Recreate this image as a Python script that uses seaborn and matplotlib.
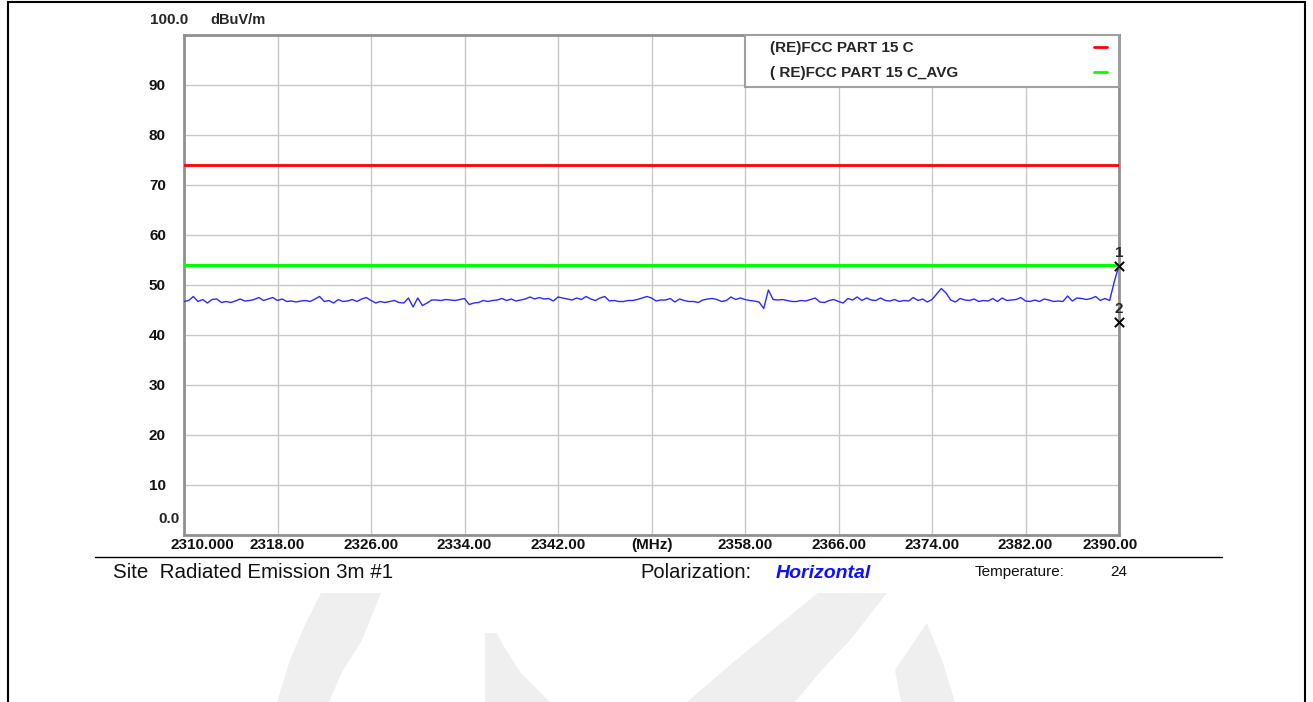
import numpy as np
import matplotlib
matplotlib.use("Agg")
import matplotlib.pyplot as plt
import matplotlib.transforms as mtransforms
from matplotlib.lines import Line2D
from matplotlib.patches import Polygon, Rectangle
import seaborn as sns

# --- data: 2310-2390 MHz, one reading every 0.4 MHz ---
level_dbuv = [
    46.7, 46.9, 47.7, 46.7, 47.1, 46.4, 47.1, 47.2, 46.5, 46.7,
    46.5, 46.8, 47.2, 46.8, 46.9, 47.1, 47.5, 46.9, 47.2, 47.5,
    46.9, 47.2, 46.7, 46.8, 46.6, 46.8, 46.9, 46.7, 47.2, 47.7,
    46.7, 46.9, 46.4, 47.1, 46.7, 46.8, 47.1, 46.7, 47.2, 47.5,
    46.9, 46.4, 46.7, 46.5, 46.7, 46.9, 46.5, 46.4, 47.4, 45.6,
    47.4, 45.9, 46.4, 47.0, 47.0, 46.9, 47.1, 47.0, 46.9, 47.1,
    47.3, 46.1, 46.4, 46.5, 46.9, 46.7, 46.9, 47.0, 47.3, 46.9,
    47.2, 46.8, 47.0, 47.2, 47.6, 47.2, 47.5, 47.2, 47.3, 46.8,
    47.6, 47.4, 47.2, 47.0, 47.4, 47.1, 47.7, 47.2, 46.9, 47.4,
    47.7, 46.8, 46.9, 46.7, 46.7, 46.9, 46.9, 47.1, 47.4, 47.7,
    47.4, 46.8, 47.0, 47.0, 47.3, 46.6, 47.2, 46.9, 46.7, 46.7,
    46.5, 47.0, 47.2, 47.3, 47.1, 46.7, 46.9, 47.6, 47.1, 47.4,
    47.1, 46.9, 46.8, 46.6, 45.3, 49.0, 47.1, 47.0, 47.1, 46.9,
    46.7, 46.7, 46.9, 46.8, 47.1, 47.4, 46.6, 46.5, 46.9, 47.1,
    46.7, 46.4, 47.3, 47.0, 47.6, 46.9, 47.4, 47.0, 46.9, 47.4,
    46.9, 46.8, 47.1, 46.7, 46.9, 46.8, 47.5, 46.9, 47.2, 46.6,
    47.1, 48.2, 49.3, 48.4, 47.0, 46.6, 47.3, 47.0, 46.9, 47.2,
    46.7, 46.9, 46.8, 47.3, 46.7, 47.4, 46.9, 47.0, 47.1, 47.5,
    46.8, 46.7, 47.0, 46.7, 47.2, 47.0, 46.7, 46.8, 46.7, 47.8,
    46.8, 47.4, 47.3, 47.1, 47.3, 47.7, 46.9, 47.3, 46.9, 50.7,
    53.9,
]
freq_mhz = np.linspace(2310, 2390, len(level_dbuv))

limit_peak = 74.0
limit_avg = 54.0
limit_labels = ["(RE)FCC PART 15 C", "( RE)FCC PART 15 C_AVG"]

marker_freq = [2390.0, 2390.0]
marker_level = [53.9, 42.7]
marker_ids = ["1", "2"]

x_ticks = [2310, 2318, 2326, 2334, 2342, 2350, 2358, 2366, 2374, 2382, 2390]
x_ticklabels = ["2310.000", "2318.00", "2326.00", "2334.00", "2342.00", "(MHz)",
                "2358.00", "2366.00", "2374.00", "2382.00", "2390.00"]
y_ticks = [10, 20, 30, 40, 50, 60, 70, 80, 90]

W, H = 1313, 702


def px(x, y):
    # figure pixel -> figure fraction (origin top-left like the scan)
    return (x / W, 1 - y / H)


sns.set_theme(style="white")
plt.rcParams["font.family"] = ["Liberation Sans", "DejaVu Sans"]

fig = plt.figure(figsize=(W / 100, H / 100), dpi=100)
fig.patch.set_facecolor("white")
ax = fig.add_axes([184 / W, 1 - 535 / H, (1119 - 184) / W, 500 / H])

# trace + limit lines
sns.lineplot(x=freq_mhz, y=level_dbuv, color="#2a2aff", linewidth=1.0, estimator=None, ax=ax, zorder=3)
ax.axhline(limit_peak, color="#ff0000", linewidth=2, zorder=3)
ax.axhline(limit_avg, color="#00ff00", linewidth=2.2, zorder=3)

# markers 1 and 2 at the band edge
sns.scatterplot(x=marker_freq, y=marker_level, marker="x", color="black", s=45, linewidth=1.4,
                ax=ax, zorder=5, clip_on=False)
for f, lv, lab in zip(marker_freq, marker_level, marker_ids):
    ax.annotate(lab, xy=(f, lv), xytext=(0, 9), textcoords="offset points", ha="center", va="center",
                fontsize=11, fontweight="bold", annotation_clip=False)

ax.set_xlim(2310, 2390)
ax.set_ylim(0, 100)
ax.set_xticks(x_ticks)
ax.set_xticklabels(x_ticklabels)
ax.set_yticks(y_ticks)
ax.set_yticklabels([str(v) for v in y_ticks])
ax.set_yticks([0, 100], minor=True)
ax.tick_params(axis="both", which="both", length=0, labelsize=11, labelcolor="#111111")
ax.tick_params(axis="x", pad=2)
ax.tick_params(axis="y", pad=13)
for lab in ax.get_xticklabels() + ax.get_yticklabels():
    lab.set_fontweight("bold")

# nudge end labels like the original
lbls = ax.get_xticklabels()
lbls[0].set_transform(lbls[0].get_transform() + mtransforms.ScaledTranslation(18 / 100, 0, fig.dpi_scale_trans))
lbls[-1].set_transform(lbls[-1].get_transform() + mtransforms.ScaledTranslation(-9 / 100, 0, fig.dpi_scale_trans))

ax.grid(True, which="both", color="#c8c8c8", linewidth=1)
ax.set_axisbelow(True)
for sp in ax.spines.values():
    sp.set_color("#909090")
    sp.set_linewidth(2)

# top / bottom y labels and unit
ax.annotate("100.0", xy=(0, 1), xycoords="axes fraction", xytext=(-34, 15), textcoords="offset pixels",
            ha="left", va="center", fontsize=11, fontweight="bold")
ax.annotate("dBuV/m", xy=(0, 1), xycoords="axes fraction", xytext=(26, 15), textcoords="offset pixels",
            ha="left", va="center", fontsize=10.5, fontweight="bold")
ax.annotate("0.0", xy=(0, 0), xycoords="axes fraction", xytext=(-26, 16), textcoords="offset pixels",
            ha="left", va="center", fontsize=11, fontweight="bold")

# legend: text column on the left, colour swatches on the right
blank = Line2D([], [], color="none")
h_peak = Line2D([], [], color="#ff0000", linewidth=2)
h_avg = Line2D([], [], color="#00ff00", linewidth=2)
leg = ax.legend([blank, blank, h_peak, h_avg], limit_labels + ["", ""], ncol=2, mode="expand",
                loc="upper right", bbox_to_anchor=(0.6, 0.9, 0.4, 0.1), borderaxespad=0,
                frameon=True, fancybox=False, framealpha=1, handlelength=0.85, handletextpad=0.35,
                borderpad=0.42, labelspacing=0.72,
                prop={"family": "Liberation Sans", "weight": "bold", "size": 11})
leg.get_frame().set_edgecolor("#a0a0a0")
leg.get_frame().set_linewidth(1.5)
leg.set_zorder(6)

# footer line + info text
fig.add_artist(Line2D([95 / W, 1222 / W], [1 - 557 / H] * 2, color="black", linewidth=1))
fig.text(*px(113, 573), "Site  Radiated Emission 3m #1", fontsize=14.8, va="center", ha="left", color="#111111")
fig.text(*px(640, 573), "Polarization:", fontsize=14.5, va="center", ha="left", color="#111111")
fig.text(*px(776, 573), "Horizontal", fontsize=14, va="center", ha="left", color="#1010ff",
         fontweight="bold", style="italic")
fig.text(*px(975, 572), "Temperature:", fontsize=11, va="center", ha="left", color="#111111")
fig.text(*px(1110, 572), "24", fontsize=11, va="center", ha="left", color="#111111")

# faint watermark at the bottom of the page
wm = "#efefef"
for shape in [
    [(321, 593), (381, 593), (362, 640), (342, 672), (329, 702), (277, 702), (290, 660), (305, 625)],
    [(485, 633), (497, 633), (503, 645), (520, 672), (550, 702), (485, 702)],
    [(818, 593), (887, 593), (850, 640), (820, 672), (795, 702), (687, 702), (730, 665), (770, 632)],
    [(927, 623), (943, 663), (955, 702), (901, 702), (895, 670)],
]:
    fig.add_artist(Polygon([px(x, y) for x, y in shape], closed=True, facecolor=wm, edgecolor="none",
                           zorder=0))

# page border
fig.add_artist(Rectangle(px(8, 760), (1305 - 8) / W, (760 - 2) / H, fill=False, edgecolor="black",
                         linewidth=1.5))

fig.savefig("out.png", dpi=100)
